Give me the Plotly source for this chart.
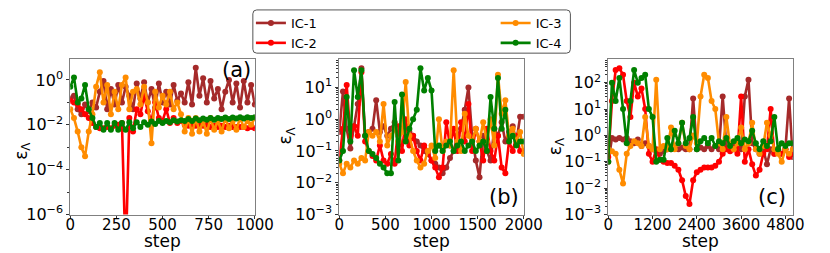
import plotly.graph_objects as go

# ---------------- data ----------------
steps_a = list(range(0, 1001, 20))
steps_b = list(range(0, 2001, 40))
steps_c = list(range(0, 5001, 100))

ic1_a = [0.15, 0.2, 0.05, 0.03, 0.08, 0.04, 0.1, 0.06, 0.3, 0.9, 0.05, 0.4, 0.08, 0.6, 0.1, 0.5, 0.2, 0.05,
         0.7, 0.15, 0.8, 0.1, 0.4, 0.06, 0.7, 0.1, 0.3, 0.08, 0.6, 0.12, 0.25, 0.1, 0.8, 0.08, 3.5, 0.2, 1.2,
         0.1, 0.9, 0.15, 0.4, 0.05, 0.3, 1.0, 0.1, 0.7, 0.06, 0.9, 0.1, 0.6, 0.08]
ic2_a = [0.12, 0.1, 0.08, 0.05, 0.03, 0.02, 0.012, 0.008, 0.007, 0.007, 0.008, 0.007, 0.009, 0.01, 0.012,
         1e-8, 0.02, 0.005, 0.05, 0.03, 0.2, 0.04, 0.015, 0.1, 0.02, 0.015, 0.05, 0.012, 0.02, 0.012, 0.015,
         0.01, 0.009, 0.01, 0.009, 0.01, 0.009, 0.01, 0.008, 0.009, 0.008, 0.009, 0.008, 0.009, 0.008, 0.008,
         0.008, 0.008, 0.007, 0.008, 0.007]
ic3_a = [0.05, 0.02, 0.005, 0.001, 0.0004, 0.005, 0.03, 0.5, 2.2, 0.1, 0.6, 0.03, 0.3, 0.05, 0.6, 1.3, 0.05,
         0.3, 0.4, 0.08, 0.5, 0.1, 0.0015, 0.3, 0.06, 0.2, 0.08, 0.3, 0.05, 0.1, 0.03, 0.005, 0.02, 0.004,
         0.02, 0.005, 0.015, 0.004, 0.02, 0.006, 0.015, 0.005, 0.02, 0.007, 0.015, 0.006, 0.02, 0.008, 0.015,
         0.01, 0.02]
ic4_a = [0.5, 1.3, 0.1, 0.15, 0.6, 0.05, 0.02, 0.008, 0.012, 0.006, 0.012, 0.006, 0.012, 0.006, 0.012, 0.006,
         0.013, 0.007, 0.013, 0.008, 0.013, 0.01, 0.014, 0.011, 0.015, 0.012, 0.015, 0.013, 0.016, 0.014,
         0.016, 0.015, 0.018, 0.015, 0.019, 0.016, 0.019, 0.017, 0.02, 0.017, 0.02, 0.018, 0.021, 0.018,
         0.021, 0.019, 0.022, 0.019, 0.022, 0.02, 0.022]

ic1_b = [0.4, 7.5, 0.5, 0.12, 0.6, 3, 40, 0.3, 0.4, 0.5, 4, 0.4, 0.6, 0.3, 0.5, 0.8, 0.3, 0.5, 0.6, 0.4, 0.3,
         0.2, 0.15, 0.1, 0.08, 0.05, 0.04, 0.03, 0.02, 0.03, 0.06, 0.1, 0.3, 0.5, 2, 10, 0.3, 0.05, 0.015,
         0.3, 0.1, 0.05, 0.5, 0.3, 0.8, 0.2, 0.4, 0.6, 0.2, 1.2, 1.2]
ic2_b = [0.05, 0.5, 12, 0.3, 0.6, 0.3, 30, 0.2, 0.1, 0.07, 0.05, 0.15, 0.05, 0.04, 0.08, 0.04, 0.6, 0.1, 1.0,
         0.15, 0.3, 0.1, 0.05, 0.15, 0.1, 0.05, 0.03, 0.015, 0.03, 0.8, 0.15, 0.5, 0.1, 0.8, 0.2, 3, 0.1,
         0.5, 0.2, 0.05, 0.5, 0.1, 0.05, 0.3, 0.03, 0.02, 0.2, 0.1, 0.3, 0.1, 0.1]
ic3_b = [0.04, 0.02, 0.04, 0.03, 0.05, 0.04, 0.06, 0.05, 0.4, 0.3, 0.4, 0.2, 3, 0.15, 0.3, 0.5, 0.2, 0.4, 15,
         0.3, 0.1, 0.05, 0.03, 0.04, 0.1, 0.15, 0.06, 1.0, 0.1, 0.2, 0.15, 35, 0.2, 0.1, 1.5, 0.3, 0.2, 0.5,
         0.2, 0.8, 0.2, 1.0, 0.15, 25, 1.5, 4, 0.3, 0.5, 0.2, 0.4, 0.08]
ic4_b = [0.05, 0.1, 5, 0.2, 35, 5, 35, 0.3, 0.1, 0.08, 0.06, 0.04, 0.03, 0.02, 0.02, 3.5, 0.05, 6, 0.2, 0.5,
         1.0, 2, 40, 8, 20, 8, 0.1, 0.15, 0.1, 0.15, 0.2, 0.1, 0.15, 0.2, 0.1, 0.15, 0.2, 0.1, 0.15, 0.2,
         0.1, 5, 0.5, 20, 0.5, 2, 0.2, 0.3, 0.15, 0.2, 0.2]

ic1_c = [0.1, 0.8, 0.7, 0.8, 0.7, 0.8, 0.6, 0.5, 0.7, 0.4, 0.5, 0.4, 0.3, 0.25, 0.2, 0.25, 0.3, 0.3, 0.35,
         0.3, 0.35, 0.3, 0.3, 25, 0.3, 0.35, 0.3, 0.4, 0.3, 0.4, 0.3, 30, 0.4, 0.3, 0.5, 0.4, 0.3, 30, 130,
         0.5, 0.3, 0.2, 0.3, 0.08, 0.3, 0.2, 0.3, 0.2, 0.3, 25, 0.15]
ic2_c = [0.15, 20, 300, 350, 200, 20, 5, 100, 30, 60, 10, 0.2, 0.1, 0.3, 0.12, 0.1, 0.09, 0.09, 0.07, 0.05,
         0.02, 0.005, 0.0025, 0.02, 0.04, 0.05, 0.06, 0.06, 0.06, 0.07, 0.1, 0.2, 0.3, 0.25, 0.3, 0.2, 30,
         0.1, 0.3, 0.08, 0.03, 0.05, 0.2, 0.3, 10, 0.2, 0.3, 0.2, 0.3, 0.15, 0.2]
ic3_c = [0.3, 0.25, 0.2, 0.05, 0.015, 0.2, 0.4, 0.6, 0.5, 0.4, 5, 0.4, 0.3, 130, 0.3, 0.4, 0.3, 2, 0.3, 0.5,
         3, 0.4, 0.3, 1, 0.5, 30, 200, 150, 20, 10, 0.5, 0.3, 5, 0.4, 0.3, 0.5, 2, 0.3, 0.5, 3, 0.3, 0.2,
         0.4, 3, 1, 0.3, 0.2, 0.1, 0.3, 0.2, 0.3]
ic4_c = [0.1, 100, 20, 150, 10, 0.5, 20, 300, 100, 150, 200, 10, 5, 0.1, 0.12, 0.12, 0.8, 0.3, 1.5, 0.5, 3,
         0.5, 0.8, 5, 0.3, 0.6, 0.8, 0.5, 0.8, 0.4, 0.6, 0.5, 0.8, 0.4, 0.6, 0.8, 0.5, 0.7, 0.6, 1.5, 0.5,
         0.3, 0.6, 0.4, 0.6, 5, 0.3, 0.5, 0.4, 0.5, 0.5]

names = ["IC-1", "IC-2", "IC-3", "IC-4"]
colors = ["#a52a2a", "#ff0000", "#ff8c00", "#008000"]

xticks_a = [0, 250, 500, 750, 1000]
xticks_b = [0, 500, 1000, 1500, 2000]
xticks_c = [0, 1200, 2400, 3600, 4800]
yexp_a = [-6, -4, -2, 0]
yexp_b = [-3, -2, -1, 0, 1]
yexp_c = [-3, -2, -1, 0, 1, 2]
panel_labels = ["(a)", "(b)", "(c)"]
x_title = "step"
y_title = "\u03b5<sub>\u039b</sub>"

panels = [
    (steps_a, [ic1_a, ic2_a, ic3_a, ic4_a], "x", "y"),
    (steps_b, [ic1_b, ic2_b, ic3_b, ic4_b], "x2", "y2"),
    (steps_c, [ic1_c, ic2_c, ic3_c, ic4_c], "x3", "y3"),
]

# ---------------- figure ----------------
W, H = 830, 253
FONT = "DejaVu Sans"
fig = go.Figure()
for p, (xs, series, xa, ya) in enumerate(panels):
    for i, ys in enumerate(series):
        fig.add_trace(go.Scatter(
            x=xs, y=ys, xaxis=xa, yaxis=ya, mode="lines+markers",
            name=names[i], line=dict(color=colors[i], width=2.6),
            marker=dict(color=colors[i], size=6),
            showlegend=(p == 0), legend=("legend" if i < 2 else "legend2"),
        ))


def sup(e):
    return "10<sup>" + (("\u2212" + str(-e)) if e < 0 else str(e)) + "</sup>"


def xpx(a, b):
    return [a / W, b / W]


def ypx(top, bottom):
    return [1 - bottom / H, 1 - top / H]


common_x = dict(showline=True, linecolor="#808080", linewidth=1, mirror=True, ticks="outside",
                ticklen=3, tickcolor="#333", showgrid=False, zeroline=False, ticklabelstandoff=-7,
                tickfont=dict(size=15, color="black", family=FONT))
common_y = dict(type="log", showline=True, linecolor="#808080", linewidth=1, mirror=True, ticks="outside",
                ticklen=3, tickcolor="#333", showgrid=False, zeroline=False,
                tickfont=dict(size=16, color="black", family=FONT))


def minors(lo, hi):
    return [m * 10 ** e for e in range(lo, hi) for m in range(2, 10)]


fig.update_layout(
    width=W, height=H, margin=dict(l=0, r=0, t=0, b=0),
    paper_bgcolor="white", plot_bgcolor="white",
    font=dict(family=FONT, color="black"),
    xaxis=dict(common_x, domain=xpx(59, 249), range=[0, 1000], tickvals=xticks_a, anchor="y"),
    xaxis2=dict(common_x, domain=xpx(336, 526), range=[0, 2000], tickvals=xticks_b, anchor="y2"),
    xaxis3=dict(common_x, domain=xpx(613, 803), range=[0, 5000], tickvals=xticks_c, anchor="y3"),
    yaxis=dict(common_y, domain=ypx(53, 215), range=[-6, 0.94], tickvals=[10 ** e for e in yexp_a],
               ticktext=[sup(e) for e in yexp_a], anchor="x",
               minor=dict(tickvals=[10 ** e for e in range(-6, 1)], ticks="outside", ticklen=2,
                          tickcolor="#333")),
    yaxis2=dict(common_y, domain=ypx(53, 215), range=[-3, 1.9], tickvals=[10 ** e for e in yexp_b],
                ticktext=[sup(e) for e in yexp_b], anchor="x2",
                minor=dict(tickvals=minors(-3, 2), ticks="outside", ticklen=2, tickcolor="#333")),
    yaxis3=dict(common_y, domain=ypx(53, 215), range=[-3, 2.9], tickvals=[10 ** e for e in yexp_c],
                ticktext=[sup(e) for e in yexp_c], anchor="x3",
                minor=dict(tickvals=minors(-3, 3), ticks="outside", ticklen=2, tickcolor="#333")),
    legend=dict(x=245 / W, y=1.0, xanchor="left", yanchor="top", bgcolor="rgba(0,0,0,0)",
                font=dict(size=13, family=FONT, color="black"), tracegroupgap=0),
    legend2=dict(x=497 / W, y=1.0, xanchor="left", yanchor="top", bgcolor="rgba(0,0,0,0)",
                 font=dict(size=13, family=FONT, color="black"), tracegroupgap=0),
)

# rounded legend frame
x0, x1, y0, y1, r = 247, 574, 2, 47, 4


def P(x, y):
    return f"{x / W:.5f},{1 - y / H:.5f}"


path = (f"M{P(x0 + r, y0)} L{P(x1 - r, y0)} Q{P(x1, y0)} {P(x1, y0 + r)} L{P(x1, y1 - r)} "
        f"Q{P(x1, y1)} {P(x1 - r, y1)} L{P(x0 + r, y1)} Q{P(x0, y1)} {P(x0, y1 - r)} "
        f"L{P(x0, y0 + r)} Q{P(x0, y0)} {P(x0 + r, y0)} Z")
fig.add_shape(type="path", path=path, xref="paper", yref="paper",
              line=dict(color="#555", width=1), fillcolor="rgba(0,0,0,0)")

# panel labels
for label, xr, yr, xd, yd in zip(panel_labels, ["x domain", "x2 domain", "x3 domain"],
                                 ["y domain", "y2 domain", "y3 domain"],
                                 [0.99, 0.984, 0.974], [0.926, 0.11, 0.11]):
    fig.add_annotation(text=label, xref=xr, yref=yr, x=xd, y=yd, xanchor="right", yanchor="middle",
                       showarrow=False, font=dict(size=21, family=FONT, color="black"))

# axis titles
for xr in ["x domain", "x2 domain", "x3 domain"]:
    fig.add_annotation(text=x_title, xref=xr, yref="paper", x=0.5, y=0.0,
                       xanchor="center", yanchor="bottom", showarrow=False, yshift=-2,
                       font=dict(size=17, family=FONT, color="black"))
for xc, yc in [(9, 149), (282, 133), (559, 144)]:
    fig.add_annotation(text=y_title, xref="paper", yref="paper", x=xc / W, y=1 - yc / H,
                       xanchor="center", yanchor="middle", textangle=-90, showarrow=False,
                       font=dict(size=17, family=FONT, color="black"))

fig.write_html("out.html")
